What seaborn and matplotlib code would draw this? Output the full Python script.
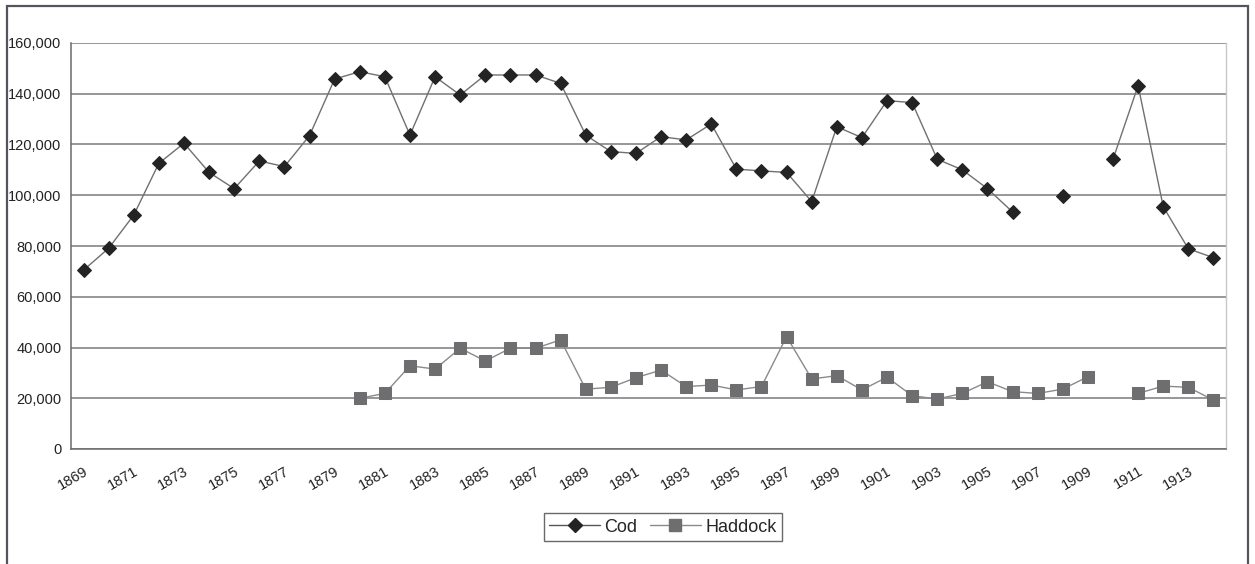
import numpy as np
import pandas as pd
import matplotlib
matplotlib.use("Agg")
import matplotlib.pyplot as plt
from matplotlib.lines import Line2D
from matplotlib.patches import Rectangle
from matplotlib.ticker import FuncFormatter, FixedLocator
import seaborn as sns

years = list(range(1869, 1915))
cod = [70500, 79100, 92200, 112600, 120500, 109000, 102600, 113500, 111300, 123500,
       145800, 148700, 146700, 123700, 146700, 139500, 147400, 147400, 147400, 144100,
       123700, 117200, 116500, 123100, 121800, 128100, 110300, 109600, 109000, 97500,
       127000, 122700, 137300, 136500, 114200, 110000, 102600, 93400, np.nan, 99800,
       np.nan, 114200, 143200, 95500, 78900, 75400]
haddock = [np.nan] * 11 + [20000, 21900, 32800, 31500, 39700, 34700, 39700, 39700, 43000,
       23600, 24300, 28100, 31100, 24600, 25200, 23300, 24600, 44300, 27600,
       28900, 23300, 28300, 21000, 19700, 21900, 26500, 22600, 21900, 23600,
       28500, np.nan, 21900, 24800, 24300, 19300]
series_names = ["Cod", "Haddock"]
y_ticks = [0, 20000, 40000, 60000, 80000, 100000, 120000, 140000, 160000]
x_labels = list(range(1869, 1915, 2))


def segments(vals):
    seg, out = 0, []
    prev_nan = True
    for v in vals:
        if np.isnan(v):
            prev_nan = True
            out.append(np.nan)
        else:
            if prev_nan:
                seg += 1
            prev_nan = False
            out.append(seg)
    return out


rows = []
for name, vals in zip(series_names, [cod, haddock]):
    segs = segments(vals)
    for y, v, s in zip(years, vals, segs):
        if not np.isnan(v):
            rows.append({"year": y, "value": v, "series": name, "seg": f"{name}{s}"})
df = pd.DataFrame(rows)

sns.set_style("white")
plt.rcParams["font.family"] = ["Liberation Sans", "DejaVu Sans"]

fig = plt.figure(figsize=(12.55, 5.64), dpi=100)
ax = fig.add_axes([71 / 1255, 1 - 449 / 564, (1226 - 71) / 1255, (449 - 43) / 564])

styles = {
    "Cod": dict(color="#707070", marker="D", mfc="#232323", mec="#232323", ms=7.5),
    "Haddock": dict(color="#8a8a8a", marker="s", mfc="#6e6e70", mec="#6e6e70", ms=8.5),
}
for name in series_names:
    st = styles[name]
    sub = df[df["series"] == name]
    sns.lineplot(data=sub, x="year", y="value", units="seg", estimator=None,
                 color=st["color"], linewidth=1.0, ax=ax, legend=False,
                 marker=st["marker"], markersize=st["ms"],
                 markerfacecolor=st["mfc"], markeredgecolor=st["mec"])

ax.set_xlim(1868.5, 1914.5)
ax.set_ylim(0, 160000)
ax.set_yticks(y_ticks)
ax.yaxis.set_major_formatter(FuncFormatter(lambda v, p: f"{int(v):,}"))
ax.yaxis.grid(True, color="#7a7a7a", linewidth=1.1)
ax.set_axisbelow(True)
ax.set_xticks(x_labels)
ax.set_xticklabels([str(x) for x in x_labels], rotation=30, ha="right",
                   rotation_mode="anchor", fontsize=10.5, color="#222222")
ax.xaxis.set_minor_locator(FixedLocator(np.arange(1868.5, 1915, 1.0)))
ax.tick_params(axis="x", which="major", length=0, pad=11)
ax.tick_params(axis="x", which="minor", length=4, width=1, color="#666666", direction="out")
ax.tick_params(axis="y", length=4, width=1, color="#666666", direction="out",
               labelsize=10.5, labelcolor="#222222", pad=3)
ax.set_xlabel("")
ax.set_ylabel("")
for s in ["left", "bottom"]:
    ax.spines[s].set_color("#6a6a6a")
    ax.spines[s].set_linewidth(1.1)
ax.spines["right"].set_color("#c8c8c8")
ax.spines["right"].set_linewidth(1.0)
ax.spines["top"].set_visible(False)

handles = [
    Line2D([], [], color="#555555", linewidth=1.0, marker="D", ms=7, mfc="#232323", mec="#232323"),
    Line2D([], [], color="#8a8a8a", linewidth=1.0, marker="s", ms=8, mfc="#6e6e70", mec="#6e6e70"),
]
leg = fig.legend(handles, series_names, loc="center", bbox_to_anchor=(663 / 1255, 1 - 527 / 564),
                 ncol=2, frameon=True, fancybox=False, fontsize=13, handlelength=2.8,
                 handletextpad=0.25, columnspacing=0.7, borderpad=0.3, borderaxespad=0,
                 edgecolor="#444444")
leg.get_frame().set_linewidth(1.0)

fig.patches.append(Rectangle((7 / 1255, -0.02), (1248 - 7) / 1255, 1.02 - 6 / 564,
                             transform=fig.transFigure, fill=False,
                             edgecolor="#555560", linewidth=1.6, zorder=0))

fig.savefig("out.png", dpi=100, facecolor="white")
